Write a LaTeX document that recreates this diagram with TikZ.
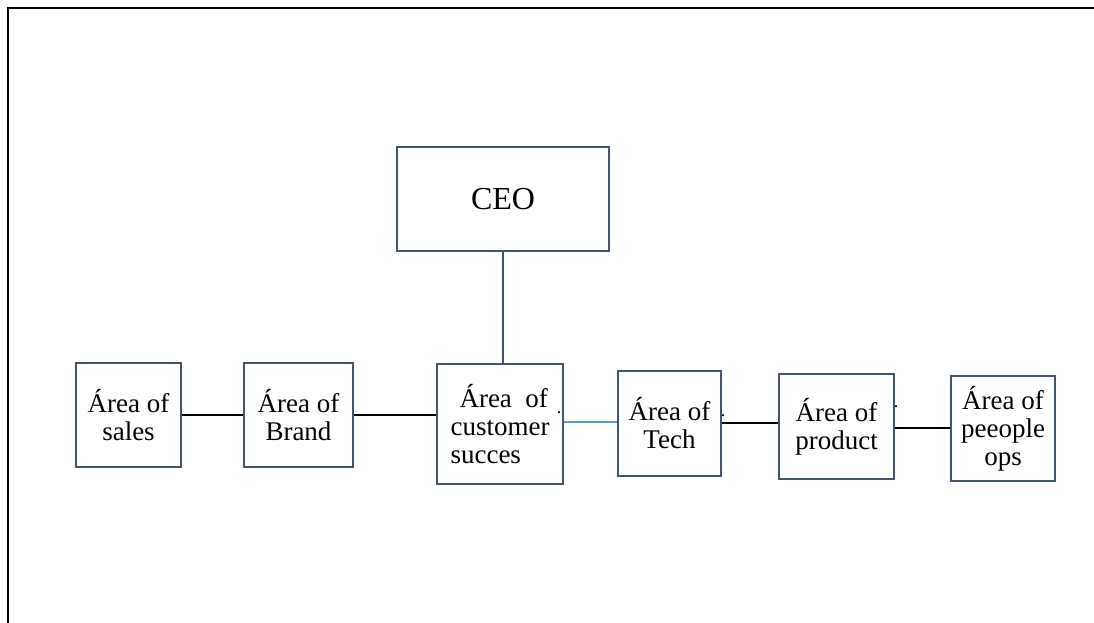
\documentclass[tikz,border=0pt]{standalone}
\usepackage{fontspec}
\setmainfont{Liberation Serif}
\definecolor{boxline}{HTML}{44546A}
\definecolor{blueline}{HTML}{5B9BD5}
\begin{document}
\begin{tikzpicture}[x=1pt,y=-1pt,
  box/.style={draw=boxline, line width=2pt, fill=white, inner sep=0pt, align=center,
    font=\fontsize{27}{28}\selectfont},
  conn/.style={draw=black, line width=1.6pt},
  bconn/.style={draw=blueline, line width=1.6pt},
  vconn/.style={draw=boxline, line width=2pt},
  dot/.style={inner sep=0pt, font=\fontsize{18}{18}\selectfont}]
\useasboundingbox (0,0) rectangle (1094,623);
% frame (top and left sides)
\draw[line width=2.8pt, line cap=rect] (1094,8) -- (8,8) -- (8,623);
% boxes
\node[box, minimum width=212, minimum height=104, font=\fontsize{32}{34}\selectfont] (ceo) at (503,199) {CEO};
\node[box, minimum width=105, minimum height=104] (sales) at (128.5,415) {Área of\\sales};
\node[box, minimum width=109, minimum height=104] (brand) at (298.5,415) {Área of\\Brand};
\node[box, minimum width=126, minimum height=120, align=left] (cust) at (500,424) {\hspace{9pt}Área\ \ of\\customer\\succes};
\node[box, minimum width=103, minimum height=105] (tech) at (669.5,423.5) {Área of\\Tech};
\node[box, minimum width=115, minimum height=105] (prod) at (836.5,426.5) {Área of\\product};
\node[box, minimum width=104, minimum height=105] (ppl) at (1003,428.5) {Área of\\peeople\\ops};
% connectors
\draw[vconn] (ceo.south) -- (cust.north -| ceo.south);
\draw[conn] (sales.east |- 0,415) -- (brand.west |- 0,415);
\draw[conn] (brand.east |- 0,415) -- (cust.west |- 0,415);
\draw[bconn] (cust.east |- 0,422) -- (tech.west |- 0,422);
\draw[conn] (tech.east |- 0,423) -- (prod.west |- 0,423);
\draw[conn] (prod.east |- 0,428) -- (ppl.west |- 0,428);
% stray dots
\node[dot] (d1) at (559,413) {.};
\node[dot] (d2) at (723,416) {.};
\node[dot] (d3) at (896,407) {.};
\end{tikzpicture}
\end{document}
